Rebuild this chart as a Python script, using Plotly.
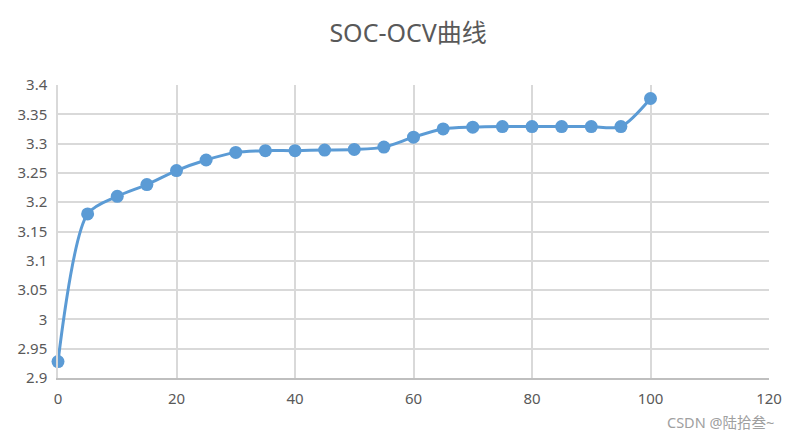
import plotly.graph_objects as go

soc = [0, 5, 10, 15, 20, 25, 30, 35, 40, 45, 50, 55, 60, 65, 70, 75, 80, 85, 90, 95, 100]
ocv = [2.928, 3.180, 3.210, 3.230, 3.254, 3.272, 3.285, 3.288, 3.288, 3.289, 3.290, 3.294,
       3.311, 3.325, 3.328, 3.329, 3.329, 3.329, 3.329, 3.329, 3.377]

x_ticks = [0, 20, 40, 60, 80, 100, 120]
y_ticks = [2.9, 2.95, 3.0, 3.05, 3.1, 3.15, 3.2, 3.25, 3.3, 3.35, 3.4]
y_labels = ["2.9", "2.95", "3", "3.05", "3.1", "3.15", "3.2", "3.25", "3.3", "3.35", "3.4"]

blue = "#5B9BD5"
fig = go.Figure()
fig.add_trace(go.Scatter(
    x=soc, y=ocv, mode="lines+markers",
    line=dict(color=blue, width=3, shape="spline", smoothing=0.8),
    marker=dict(color=blue, size=13),
    showlegend=False, cliponaxis=False,
))

font_main = "Noto Sans, Noto Sans CJK SC, sans-serif"
fig.update_layout(
    width=783, height=432,
    margin=dict(l=50, r=22, t=77, b=62),
    paper_bgcolor="white", plot_bgcolor="white",
    title=dict(text="SOC-OCV曲线", x=0.511, xanchor="center", y=0.942, yanchor="middle",
               font=dict(family=font_main, size=25, color="#595959")),
    font=dict(family=font_main, color="#595959", size=14),
    xaxis=dict(range=[0, 120], tickvals=x_ticks, showgrid=True, gridcolor="#D9D9D9", gridwidth=1.5,
               zeroline=False, showline=True, linecolor="#BFBFBF", linewidth=1.5, ticks="",
               tickfont=dict(size=15, color="#595959"), ticklabelstandoff=6, automargin=False),
    yaxis=dict(range=[2.9, 3.4], tickvals=y_ticks, ticktext=y_labels, showgrid=True,
               gridcolor="#D9D9D9", gridwidth=1.5, zeroline=False, showline=True,
               linecolor="#D9D9D9", linewidth=1.5, ticks="",
               tickfont=dict(size=15, color="#595959"), ticklabelstandoff=6, automargin=False),
    annotations=[dict(text="CSDN @陆拾叁~", x=1.0098, xref="paper", xanchor="right",
                      y=-0.150, yref="paper", yanchor="middle", showarrow=False,
                      font=dict(family=font_main, size=14.5, color="#A0A0A0"))],
)
fig.write_html("out.html")
